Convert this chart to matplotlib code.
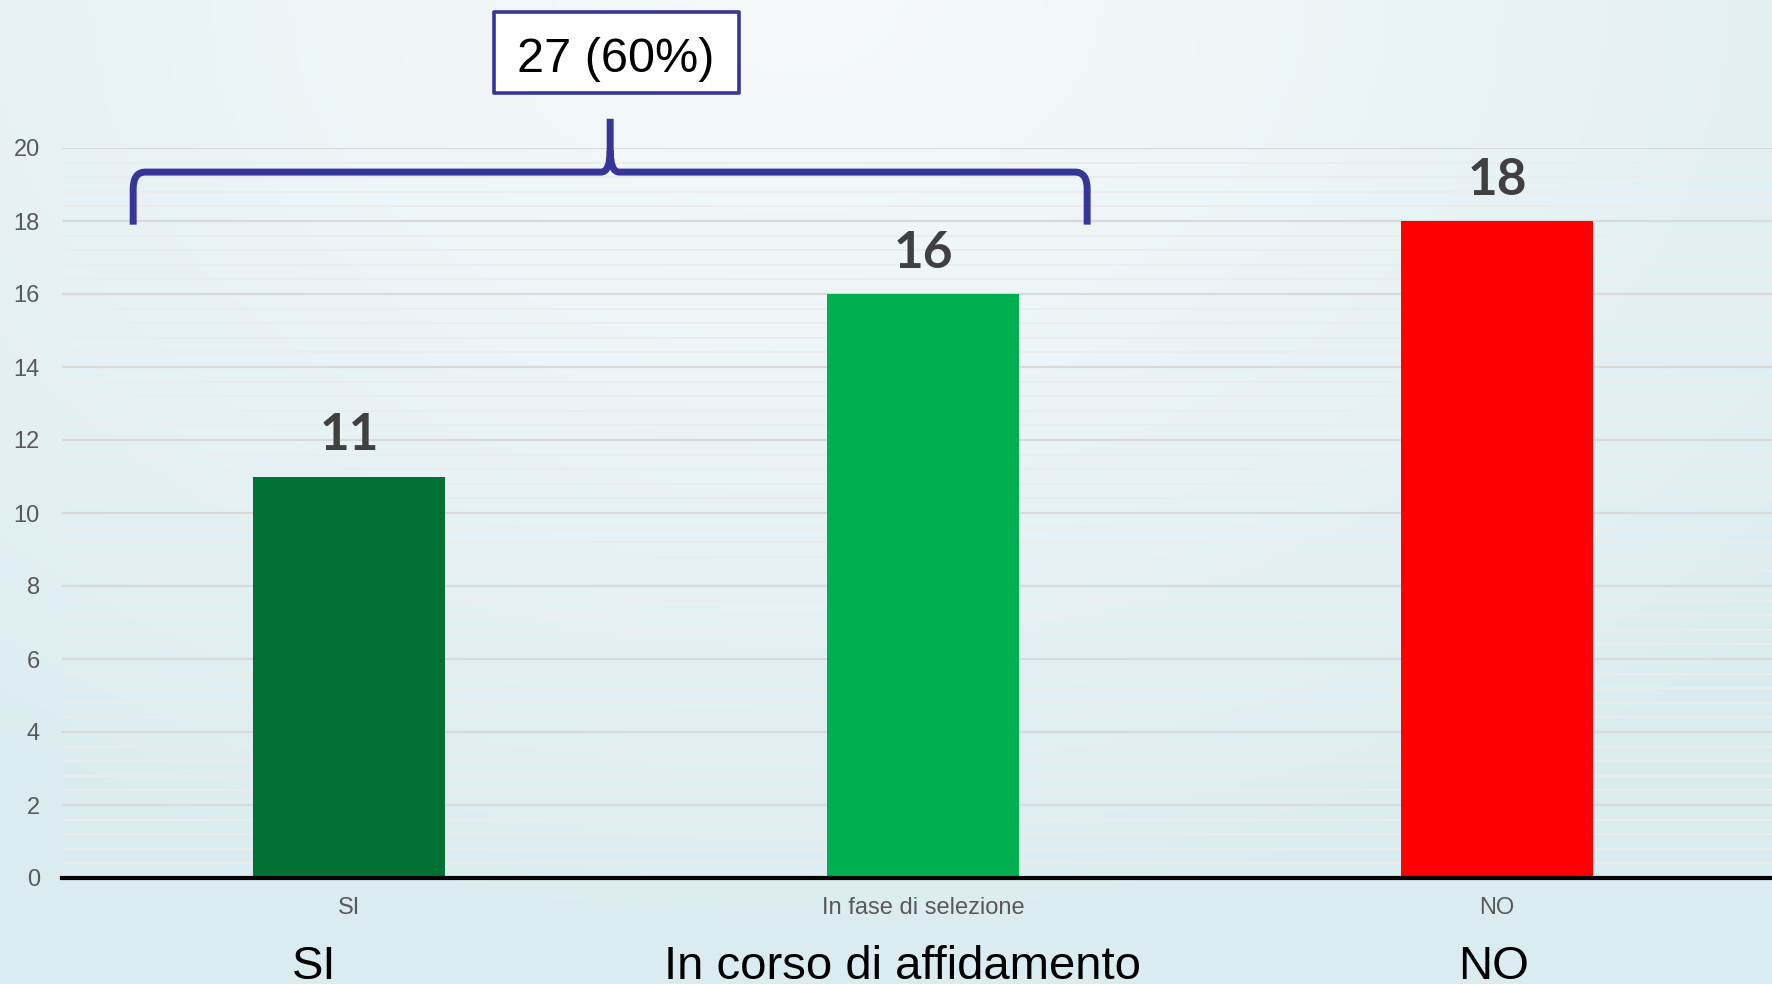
"""Bar chart: SI / In fase di selezione / NO with a brace grouping the first two bars."""

import numpy as np
import matplotlib
matplotlib.use("Agg")
import matplotlib.pyplot as plt
from matplotlib.path import Path
from matplotlib.patches import PathPatch, Rectangle
from matplotlib.ticker import MultipleLocator

# data
categories = ["SI", "In fase di selezione", "NO"]
values = [11, 16, 18]
bar_colors = ["#007033", "#00B050", "#FF0000"]
group_labels = ["SI", "In corso di affidamento", "NO"]
y_ticks = list(range(0, 21, 2))

W, H = 1772, 984
fig = plt.figure(figsize=(W / 100, H / 100), dpi=100)

# soft light-blue background gradient (lighter near the top centre)
bg = fig.add_axes([0, 0, 1, 1], zorder=-10)
yy, xx = np.mgrid[0:1:200j, 0:1:360j]
t = np.clip(np.sqrt(((xx - 0.45) / 0.8) ** 2 + (yy / 1.0) ** 2), 0, 1)
light = np.array([0xf7, 0xfa, 0xfb]) / 255
edge = np.array([0xda, 0xec, 0xf0]) / 255
img = light * (1 - t[..., None]) + edge * t[..., None]
bg.imshow(img, aspect="auto", extent=[0, 1, 0, 1], origin="upper")
bg.axis("off")

# main plot area
ax = fig.add_axes([62 / W, 106 / H, 1 - 62 / W, 730 / H])
ax.patch.set_alpha(0)
x = np.arange(len(categories))
ax.bar(x, values, width=0.334, color=bar_colors, zorder=3)
ax.set_xlim(-0.5, -0.5 + (W - 62) / 574)
ax.set_ylim(0, 20)
ax.set_yticks(y_ticks)
ax.yaxis.set_minor_locator(MultipleLocator(0.4))
ax.grid(axis="y", which="major", color="#d9d9d9", lw=1.6)
ax.grid(axis="y", which="minor", color="#ececec", lw=1.3)
ax.set_axisbelow(True)
for s in ["top", "right", "left"]:
    ax.spines[s].set_visible(False)
ax.spines["bottom"].set_linewidth(3)
ax.spines["bottom"].set_color("black")
ax.spines["bottom"].set_zorder(4)
ax.set_xticks(x, categories)
ax.tick_params(axis="both", which="both", length=0)
ax.tick_params(axis="y", pad=16, labelsize=17, labelcolor="#595959")
ax.tick_params(axis="x", pad=14, labelsize=17, labelcolor="#595959")
for lab in ax.get_xticklabels() + ax.get_yticklabels():
    lab.set_family("Liberation Sans")

# value labels above the bars
for xi, v in zip(x, values):
    ax.annotate(str(v), (xi, v), xytext=(0, 19), textcoords="offset points",
                ha="center", va="baseline", fontsize=37, fontweight="bold",
                family="Lato", color="#404040")

# big group labels under the chart
for xp, lab in zip([314, 903, 1494], group_labels):
    fig.text(xp / W, 5 / H, lab, ha="center", va="baseline", fontsize=34,
             family="Liberation Sans", color="black")

# brace over the first two bars
x0, x1 = -0.376, 1.286
xm = (x0 + x1) / 2
yb, yh, yt = 17.9, 19.34, 20.8
rx, ry, sx, sy = 0.021, 0.47, 0.016, 0.6
verts = [(x0, yb), (x0, yh - ry), (x0, yh), (x0 + rx, yh),
         (xm - sx, yh), (xm, yh), (xm, yh + sy), (xm, yt),
         (xm, yh + sy), (xm, yh), (xm + sx, yh),
         (x1 - rx, yh), (x1, yh), (x1, yh - ry), (x1, yb)]
codes = [Path.MOVETO, Path.LINETO, Path.CURVE3, Path.CURVE3,
         Path.LINETO, Path.CURVE3, Path.CURVE3, Path.LINETO,
         Path.MOVETO, Path.CURVE3, Path.CURVE3,
         Path.LINETO, Path.CURVE3, Path.CURVE3, Path.LINETO]
brace = PathPatch(Path(verts, codes), fill=False, ec="#363699", lw=5,
                  capstyle="butt", joinstyle="round", clip_on=False, zorder=5)
ax.add_patch(brace)

# total box
total = values[0] + values[1]
pct = round(100 * total / sum(values))
fig.add_artist(Rectangle((494 / W, (H - 93) / H), 245 / W, 81 / H,
                         transform=fig.transFigure, fc="white", ec="#363699",
                         lw=2.6, joinstyle="round"))
fig.text(616 / W, (H - 72) / H, f"{total} ({pct}%)", ha="center", va="baseline",
         fontsize=35, family="Liberation Sans", color="black")

fig.savefig("out.png", dpi=100)
